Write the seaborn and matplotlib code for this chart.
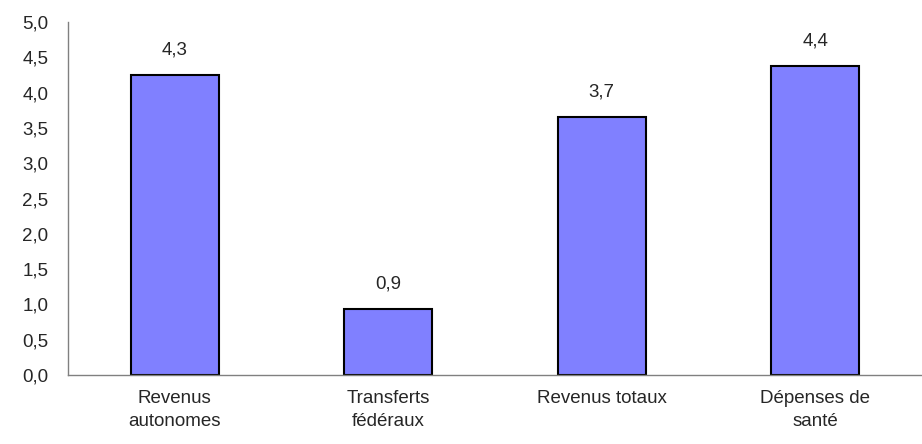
import matplotlib
matplotlib.use("Agg")
import matplotlib.pyplot as plt
import seaborn as sns
import pandas as pd

categories = ["Revenus\nautonomes", "Transferts\nfédéraux", "Revenus totaux", "Dépenses de\nsanté"]
values = [4.25, 0.93, 3.65, 4.37]
value_labels = ["4,3", "0,9", "3,7", "4,4"]
yticks = [0.0, 0.5, 1.0, 1.5, 2.0, 2.5, 3.0, 3.5, 4.0, 4.5, 5.0]

sns.set_style("white")
plt.rcParams['font.family'] = ['Liberation Sans', 'DejaVu Sans']

df = pd.DataFrame({"cat": categories, "val": values})

fig = plt.figure(figsize=(9.22, 4.44), dpi=100)
ax = fig.add_axes([68/922, 1 - 375/444, (922-68)/922, (375-22)/444])

sns.barplot(data=df, x="cat", y="val", color="#8080FF", saturation=1,
            edgecolor="black", linewidth=1.5, width=0.41, ax=ax)

ax.set_xlim(-0.5, -0.5 + (922-68)/215.3)
ax.set_ylim(0, 5)
ax.set_yticks(yticks)
ax.set_yticklabels([f"{t:.1f}".replace(".", ",") for t in yticks], fontsize=13.5)

ax.set_xticks([i - 0.5 for i in range(len(categories) + 1)])
ax.set_xticklabels([])
ax.set_xticks(range(len(categories)), minor=True)
ax.set_xticklabels(categories, minor=True, fontsize=13.5, linespacing=1.45)
ax.tick_params(axis="x", which="minor", length=0, pad=11)
ax.tick_params(axis="x", which="major", length=6, direction="out", color="#808080", width=1)
ax.tick_params(axis="y", length=6, direction="out", color="#808080", width=1, pad=8)

ax.set_xlabel("")
ax.set_ylabel("")
for s in ["top", "right"]:
    ax.spines[s].set_visible(False)
for s in ["left", "bottom"]:
    ax.spines[s].set_color("#808080")
    ax.spines[s].set_linewidth(1)

for i, (v, lab) in enumerate(zip(values, value_labels)):
    ax.annotate(lab, (i, v), xytext=(0, 12), textcoords="offset points",
                ha="center", va="bottom", fontsize=13.5)

fig.savefig("out.png", dpi=100)
